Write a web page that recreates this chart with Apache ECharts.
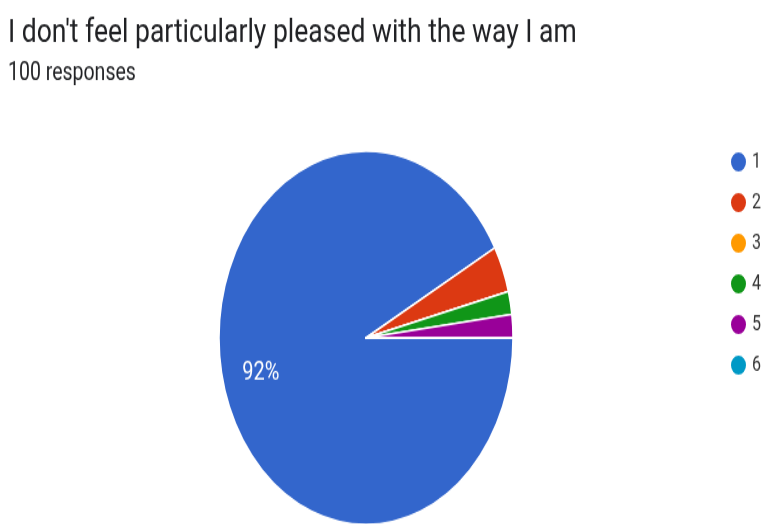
<!DOCTYPE html>
<html><head><meta charset="utf-8">
<script src="https://cdn.jsdelivr.net/npm/echarts@6/dist/echarts.min.js"></script>
<style>
html,body{margin:0;padding:0;background:#fff;overflow:hidden;}
#wrap{width:767px;height:524px;overflow:hidden;position:relative;}
#c{width:767px;height:413px;transform:scaleY(1.27);transform-origin:0 0;}
</style></head>
<body><div id="wrap"><div id="c"></div></div>
<script>
const titleText = "I don't feel particularly pleased with the way I am";
const subtitleText = "100 responses";
const categories = ["1", "2", "3", "4", "5", "6"];
const values = [92, 4, 0, 2, 2, 0];
const colors = ["#3366cc", "#dc3912", "#ff9900", "#109618", "#990099", "#0099c6"];

const chart = echarts.init(document.getElementById('c'), null, {renderer: 'canvas'});
chart.setOption({
  animation: false,
  color: colors,
  title: {
    text: titleText,
    subtext: subtitleText,
    left: 3, top: 8,
    itemGap: 8,
    textStyle: {fontFamily: 'Roboto', fontSize: 26.5, fontWeight: 'normal', color: '#202124'},
    subtextStyle: {fontFamily: 'Roboto', fontSize: 19.5, color: '#202124'}
  },
  legend: {
    orient: 'vertical',
    left: 724, top: 113,
    itemGap: 13,
    itemWidth: 17, itemHeight: 17,
    itemTextGap: 5,
    icon: 'circle',
    textStyle: {fontFamily: 'Roboto', fontSize: 16, color: '#333'},
    data: categories
  },
  series: [{
    type: 'pie',
    center: [366, 266],
    radius: 147,
    startAngle: 0,
    clockwise: true,
    avoidLabelOverlap: false,
    itemStyle: {borderColor: '#fff', borderWidth: 1.5},
    label: {
      show: true,
      position: 'inside',
      offset: [-31, 9],
      color: '#fff',
      fontFamily: 'Roboto',
      fontSize: 20,
      formatter: p => p.percent >= 5 ? Math.round(p.percent) + '%' : ''
    },
    labelLine: {show: false},
    emphasis: {disabled: true},
    data: categories.map((c, i) => ({name: c, value: values[i]}))
  }]
});
</script></body></html>
